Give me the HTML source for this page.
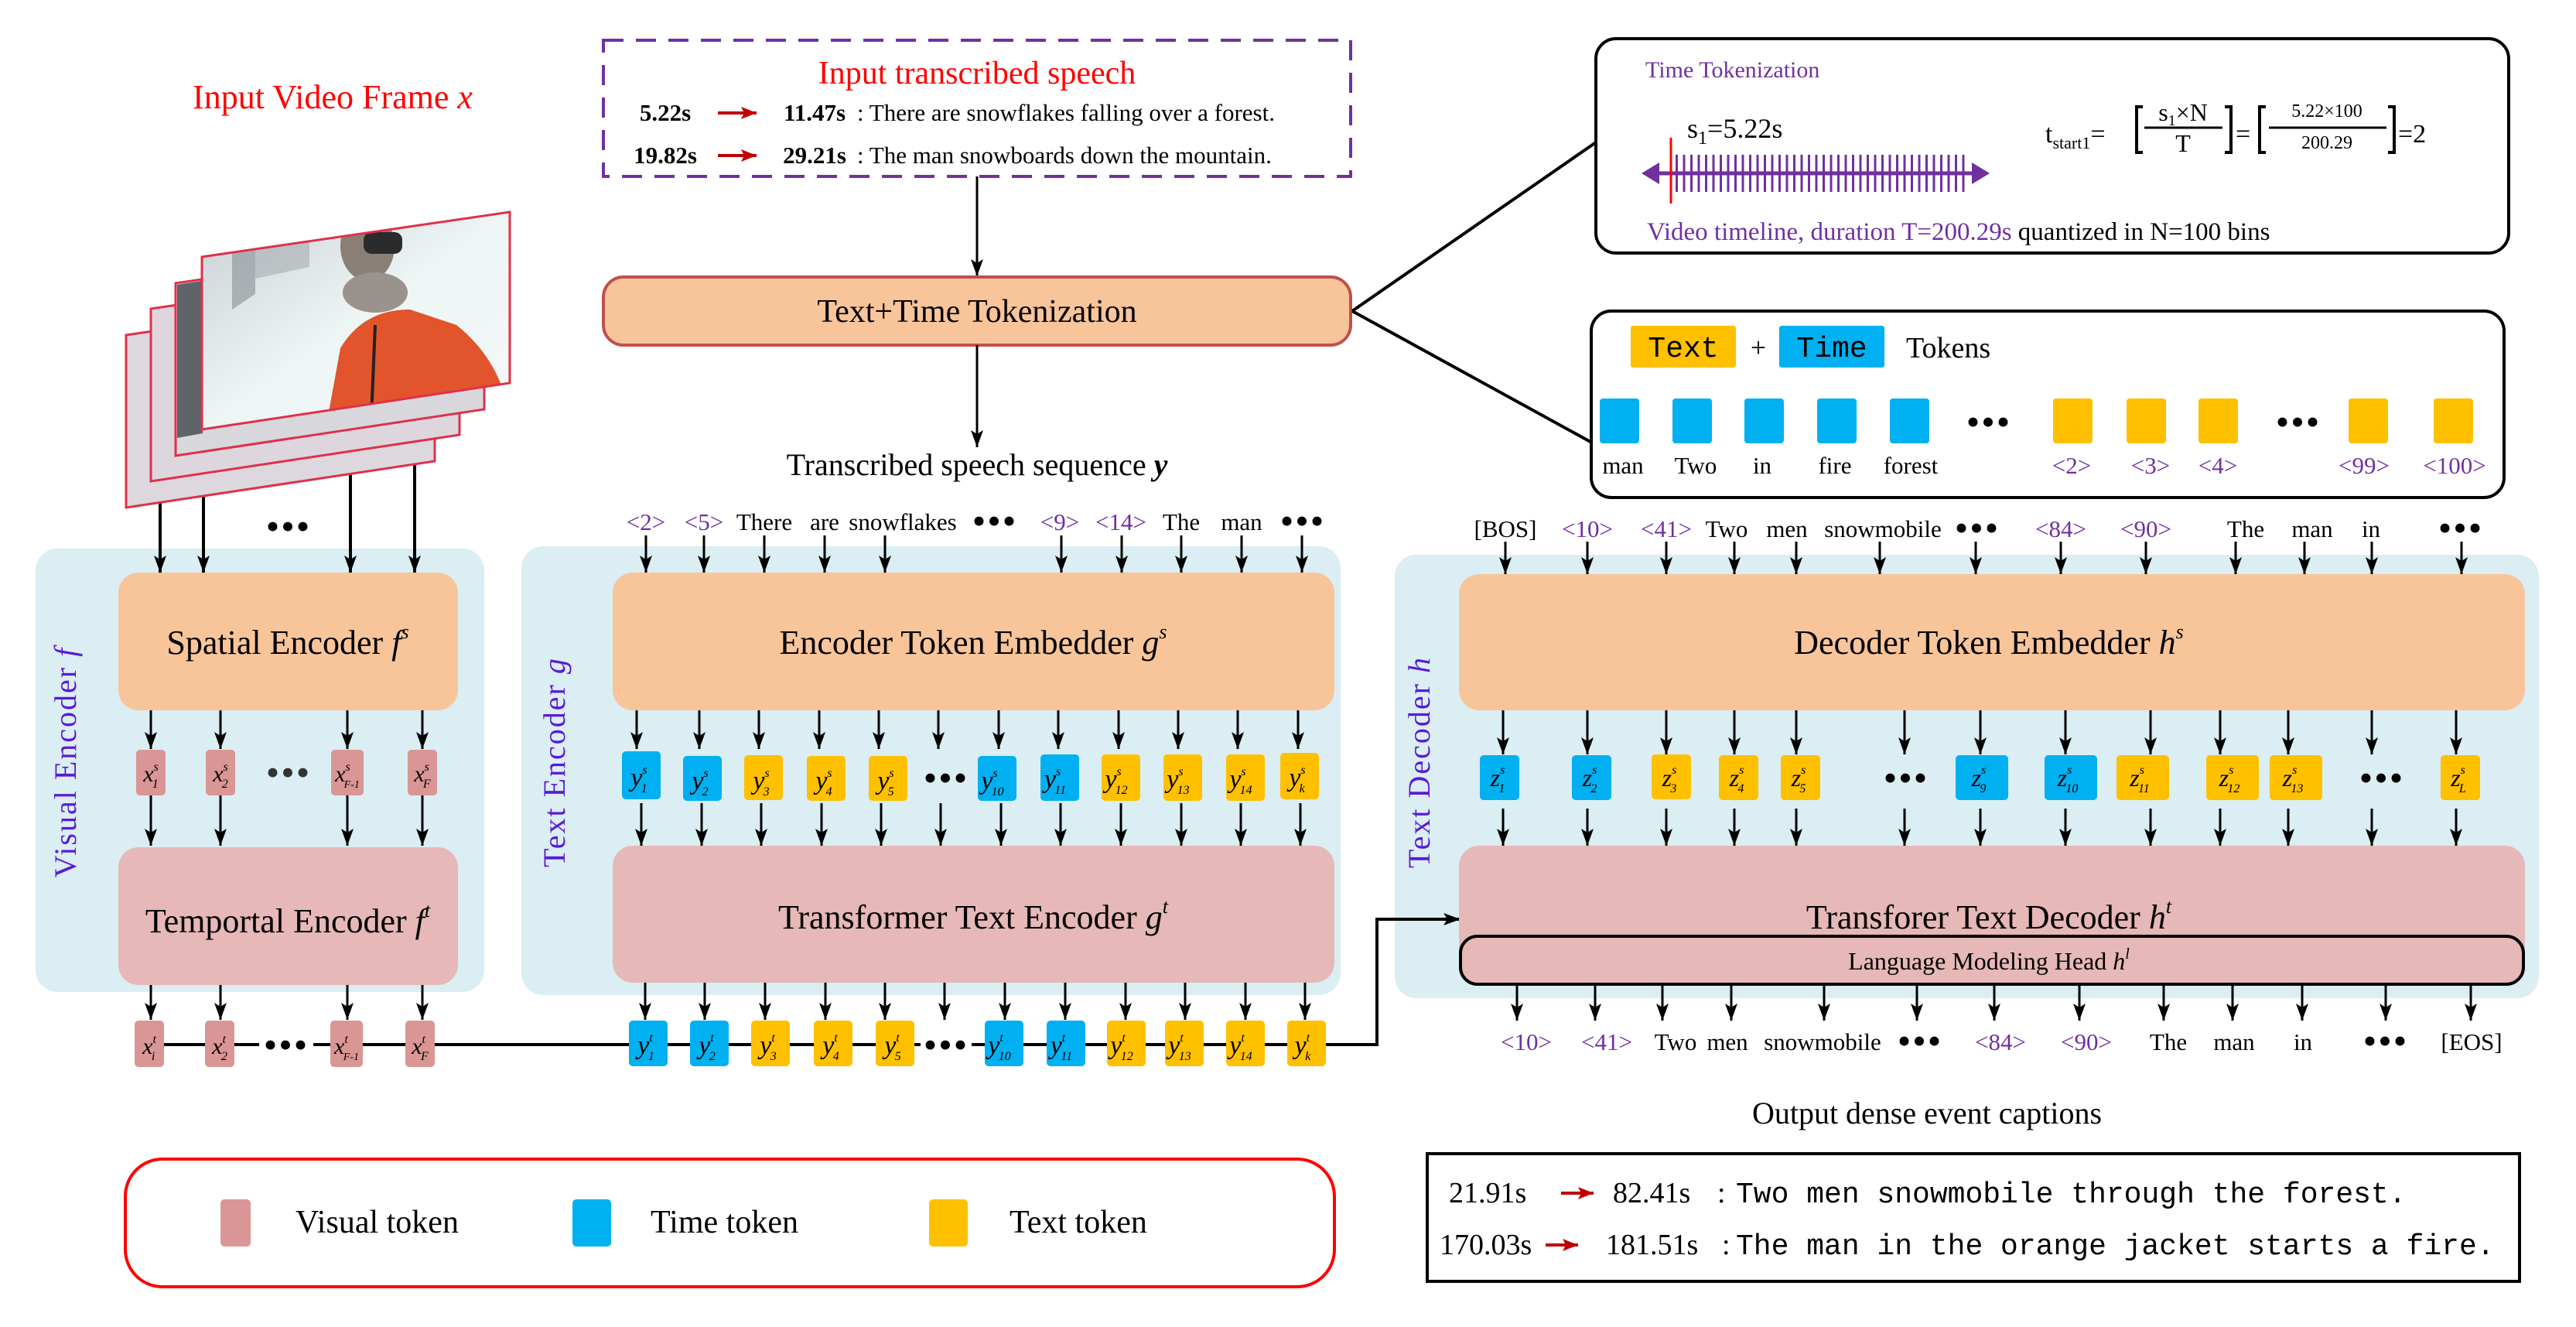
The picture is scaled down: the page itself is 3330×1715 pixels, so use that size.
<!DOCTYPE html>
<html><head><meta charset="utf-8"><style>
html,body{margin:0;padding:0;background:#fff;}
svg{display:block;font-family:"Liberation Serif",serif;}
text{font-family:"Liberation Serif",serif;}
.m{font-family:"Liberation Mono",monospace;}
.d{font-size:50px;letter-spacing:2px;}
</style></head><body>
<svg width="3330" height="1715" viewBox="0 0 3330 1715" xmlns="http://www.w3.org/2000/svg">
<defs>
<marker id="ah" markerWidth="12" markerHeight="10" refX="11" refY="5" orient="auto" markerUnits="userSpaceOnUse" viewBox="0 0 12 10">
<path d="M0,0 L12,5 L0,10 Z" fill="#000"/></marker>
<marker id="a" viewBox="0 0 22 16" refX="22" refY="8" markerWidth="22" markerHeight="16" orient="auto" markerUnits="userSpaceOnUse"><path d="M0,0 L22,8 L0,16 L5,8 Z" fill="#000"/></marker>
<marker id="r" viewBox="0 0 20 16" refX="20" refY="8" markerWidth="20" markerHeight="16" orient="auto" markerUnits="userSpaceOnUse"><path d="M0,0 L20,8 L0,16 L4,8 Z" fill="#C00000"/></marker>
<clipPath id="fc"><polygon points="261,332 659,274 659,495 261,555"/></clipPath>
<linearGradient id="snow" x1="0" y1="0" x2="1" y2="1"><stop offset="0" stop-color="#c9cfd2"/><stop offset="0.5" stop-color="#eef5f5"/><stop offset="1" stop-color="#f4f8f8"/></linearGradient>
</defs>

<!-- panels -->
<rect x="46" y="709" width="580" height="573" rx="28" fill="#DAEEF3"/>
<rect x="674" y="706" width="1059" height="580" rx="28" fill="#DAEEF3"/>
<rect x="1803" y="717" width="1479" height="573" rx="28" fill="#DAEEF3"/>

<!-- Title -->
<text x="430" y="140" font-size="44" fill="#FF0000" text-anchor="middle">Input  Video Frame <tspan font-style="italic">x</tspan></text>

<!-- frame arrows -->
<g stroke="#000" stroke-width="4" marker-end="url(#a)">
<line x1="207" y1="640" x2="207" y2="740"/>
<line x1="263" y1="600" x2="263" y2="740"/>
<line x1="453" y1="540" x2="453" y2="740"/>
<line x1="536" y1="500" x2="536" y2="740"/>
</g>
<text x="373" y="697" class="d" text-anchor="middle">•••</text>

<!-- frames -->
<g stroke="#E0304A" stroke-width="3">
<polygon points="163,433 562,375 562,596 163,656" fill="#DCD8DE"/>
<polygon points="195,399 594,341 594,562 195,622" fill="#DDD7DD"/>
<polygon points="227,366 626,308 626,529 227,589" fill="#D8D8DC"/>
</g>
<polygon points="229,368 624,310 624,470 229,530" fill="#9aa0a6"/>
<polygon points="229,368 262,363 262,560 229,566" fill="#5d6368"/>
<g clip-path="url(#fc)">
<rect x="255" y="270" width="410" height="290" fill="url(#snow)"/>
<polygon points="300,320 330,318 330,380 300,400" fill="#888e93" opacity="0.6"/>
<polygon points="330,315 400,305 400,345 330,360" fill="#9ca2a6" opacity="0.5"/>
<ellipse cx="475" cy="318" rx="35" ry="45" fill="#8a7f76"/>
<rect x="470" y="300" width="50" height="28" rx="10" fill="#2b2b2b"/>
<ellipse cx="485" cy="378" rx="42" ry="26" fill="#9a928c"/>
<path d="M420,560 L440,450 Q470,400 530,400 L590,420 Q640,460 655,520 L660,560 Z" fill="#E2542B"/>
<line x1="485" y1="420" x2="480" y2="540" stroke="#222" stroke-width="4"/>
</g>
<polygon points="261,332 659,274 659,495 261,555" fill="none" stroke="#E0304A" stroke-width="3"/>

<!-- Input transcribed speech -->
<rect x="780" y="52" width="966" height="176" fill="none" stroke="#7030A0" stroke-width="4" stroke-dasharray="26,16"/>
<text x="1263" y="108" font-size="42" fill="#FF0000" text-anchor="middle">Input transcribed speech</text>
<g font-size="31">
<text x="860" y="156" font-weight="bold" text-anchor="middle">5.22s</text>
<line x1="928" y1="146" x2="978" y2="146" stroke="#C00000" stroke-width="4" marker-end="url(#r)"/>
<text x="1053" y="156" font-weight="bold" text-anchor="middle">11.47s</text>
<text x="1108" y="156">: There are snowflakes falling over a forest.</text>
<text x="860" y="211" font-weight="bold" text-anchor="middle">19.82s</text>
<line x1="928" y1="201" x2="978" y2="201" stroke="#C00000" stroke-width="4" marker-end="url(#r)"/>
<text x="1053" y="211" font-weight="bold" text-anchor="middle">29.21s</text>
<text x="1108" y="211">: The man snowboards down the mountain.</text>
</g>
<line x1="1263" y1="228" x2="1263" y2="357" stroke="#000" stroke-width="3" marker-end="url(#a)"/>
<rect x="780" y="358" width="966" height="88" rx="26" fill="#F8C49A" stroke="#C0504D" stroke-width="4"/>
<text x="1263" y="416" font-size="42" text-anchor="middle">Text+Time Tokenization</text>
<line x1="1263" y1="446" x2="1263" y2="578" stroke="#000" stroke-width="3" marker-end="url(#a)"/>
<text x="1263" y="614" font-size="40" text-anchor="middle">Transcribed speech sequence <tspan font-style="italic" font-weight="bold">y</tspan></text>

<!-- callout lines -->
<line x1="1748" y1="402" x2="2063" y2="184" stroke="#000" stroke-width="4"/>
<line x1="1748" y1="402" x2="2056" y2="571" stroke="#000" stroke-width="4"/>

<!-- Time tokenization box -->
<rect x="2063" y="50" width="1180" height="277" rx="26" fill="#fff" stroke="#000" stroke-width="4"/>
<text x="2127" y="100" font-size="30" fill="#7030A0">Time Tokenization</text>
<text x="2181" y="178" font-size="36">s<tspan font-size="24" dy="8">1</tspan><tspan dy="-8">=5.22s</tspan></text>
<line x1="2130" y1="224" x2="2565" y2="224" stroke="#7030A0" stroke-width="5"/>
<path d="M2122,224 L2145,210 L2145,238 Z" fill="#7030A0"/>
<path d="M2572,224 L2549,210 L2549,238 Z" fill="#7030A0"/>
<line x1="2166" y1="224" x2="2542" y2="224" stroke="#7030A0" stroke-width="48" stroke-dasharray="3,6.5"/>
<line x1="2160" y1="178" x2="2160" y2="263" stroke="#FF0000" stroke-width="3"/>
<text x="2644" y="184" font-size="34">t<tspan font-size="22" dy="8">start1</tspan><tspan dy="-8">=</tspan></text>
<path d="M2770,138 L2762,138 L2762,197 L2770,197" fill="none" stroke="#000" stroke-width="4"/>
<text x="2822" y="156" font-size="32" text-anchor="middle">s<tspan font-size="20" dy="6">1</tspan><tspan dy="-6">×N</tspan></text>
<line x1="2772" y1="165" x2="2873" y2="165" stroke="#000" stroke-width="3"/>
<text x="2822" y="196" font-size="32" text-anchor="middle">T</text>
<path d="M2876,138 L2884,138 L2884,197 L2876,197" fill="none" stroke="#000" stroke-width="4"/>
<text x="2890" y="184" font-size="34">=</text>
<path d="M2929,138 L2921,138 L2921,197 L2929,197" fill="none" stroke="#000" stroke-width="4"/>
<text x="3008" y="151" font-size="24" text-anchor="middle">5.22×100</text>
<line x1="2933" y1="165" x2="3085" y2="165" stroke="#000" stroke-width="3"/>
<text x="3008" y="192" font-size="24" text-anchor="middle">200.29</text>
<path d="M3087,138 L3095,138 L3095,197 L3087,197" fill="none" stroke="#000" stroke-width="4"/>
<text x="3100" y="184" font-size="34">=2</text>
<text x="2129" y="310" font-size="33"><tspan fill="#7030A0">Video timeline, duration T=200.29s</tspan> quantized in N=100 bins</text>

<!-- Tokens box -->
<rect x="2057" y="402" width="1180" height="241" rx="26" fill="#fff" stroke="#000" stroke-width="4"/>
<rect x="2108" y="421" width="136" height="54" rx="3" fill="#FFC000"/>
<text x="2176" y="461" font-size="38" text-anchor="middle" class="m">Text</text>
<text x="2273" y="461" font-size="36" text-anchor="middle">+</text>
<rect x="2300" y="421" width="136" height="54" rx="3" fill="#00B0F0"/>
<text x="2368" y="461" font-size="38" text-anchor="middle" class="m">Time</text>
<text x="2464" y="462" font-size="38">Tokens</text>
<g fill="#00B0F0">
<rect x="2068" y="515" width="51" height="58" rx="4"/><rect x="2162" y="515" width="51" height="58" rx="4"/><rect x="2255" y="515" width="51" height="58" rx="4"/><rect x="2349" y="515" width="51" height="58" rx="4"/><rect x="2443" y="515" width="51" height="58" rx="4"/>
</g>
<g fill="#FFC000">
<rect x="2654" y="515" width="51" height="58" rx="4"/><rect x="2749" y="515" width="51" height="58" rx="4"/><rect x="2842" y="515" width="51" height="58" rx="4"/><rect x="3036" y="515" width="51" height="58" rx="4"/><rect x="3146" y="515" width="51" height="58" rx="4"/>
</g>
<text x="2571" y="562" class="d" text-anchor="middle">•••</text><text x="2971" y="562" class="d" text-anchor="middle">•••</text>
<g font-size="31" text-anchor="middle">
<text x="2098" y="612">man</text><text x="2192" y="612">Two</text><text x="2278" y="612">in</text><text x="2372" y="612">fire</text><text x="2470" y="612">forest</text>
<g fill="#7030A0"><text x="2678" y="612">&lt;2&gt;</text><text x="2780" y="612">&lt;3&gt;</text><text x="2867" y="612">&lt;4&gt;</text><text x="3056" y="612">&lt;99&gt;</text><text x="3173" y="612">&lt;100&gt;</text></g>
</g>

<!-- Visual encoder -->
<text transform="translate(98,985) rotate(-90)" font-size="40" fill="#5A1BD6" text-anchor="middle" letter-spacing="2">Visual Encoder <tspan font-style="italic">f</tspan></text>
<rect x="153" y="740" width="439" height="178" rx="26" fill="#F8C59A"/>
<text x="372" y="845" font-size="44" text-anchor="middle">Spatial Encoder <tspan font-style="italic">f</tspan><tspan font-size="26" dy="-20" font-style="italic">s</tspan></text>
<rect x="153" y="1095" width="439" height="178" rx="26" fill="#E6B8B7"/>
<text x="372" y="1205" font-size="44" text-anchor="middle">Temportal Encoder <tspan font-style="italic">f</tspan><tspan font-size="26" dy="-20" font-style="italic">t</tspan></text>
<g stroke="#000" stroke-width="3" marker-end="url(#a)">
<line x1="195" y1="918" x2="195" y2="968"/><line x1="285" y1="918" x2="285" y2="968"/><line x1="449" y1="918" x2="449" y2="968"/><line x1="546" y1="918" x2="546" y2="968"/>
<line x1="195" y1="1028" x2="195" y2="1093"/><line x1="285" y1="1028" x2="285" y2="1093"/><line x1="449" y1="1028" x2="449" y2="1093"/><line x1="546" y1="1028" x2="546" y2="1093"/>
<line x1="195" y1="1273" x2="195" y2="1318"/><line x1="285" y1="1273" x2="285" y2="1318"/><line x1="449" y1="1273" x2="449" y2="1318"/><line x1="546" y1="1273" x2="546" y2="1318"/>
</g>
<g fill="#D99694">
<rect x="176" y="969" width="38" height="59" rx="5"/><rect x="266" y="969" width="38" height="59" rx="5"/><rect x="428" y="969" width="42" height="59" rx="5"/><rect x="527" y="969" width="38" height="59" rx="5"/>
</g>
<g font-size="30" font-style="italic" text-anchor="middle">
<text x="195" y="1010">x<tspan font-size="16" dy="-14">s</tspan><tspan font-size="16" dx="-8" dy="22">1</tspan></text>
<text x="285" y="1010">x<tspan font-size="16" dy="-14">s</tspan><tspan font-size="16" dx="-8" dy="22">2</tspan></text>
<text x="449" y="1010">x<tspan font-size="16" dy="-14">s</tspan><tspan font-size="14" dx="-8" dy="22">F-1</tspan></text>
<text x="546" y="1010">x<tspan font-size="16" dy="-14">s</tspan><tspan font-size="16" dx="-8" dy="22">F</tspan></text>
</g>
<text x="373" y="1015" class="d" text-anchor="middle" fill="#333">•••</text>

<!-- bottom line -->
<polyline points="212,1350 1780,1350 1780,1188 1870,1188" fill="none" stroke="#000" stroke-width="4"/>
<line x1="1860" y1="1188" x2="1888" y2="1188" stroke="#000" stroke-width="4" marker-end="url(#a)"/>
<g fill="#D99694">
<rect x="174" y="1319" width="38" height="60" rx="5"/><rect x="265" y="1319" width="38" height="60" rx="5"/><rect x="427" y="1319" width="42" height="60" rx="5"/><rect x="524" y="1319" width="38" height="60" rx="5"/>
</g>
<rect x="335" y="1330" width="70" height="40" fill="#fff"/>
<text x="370" y="1367" class="d" text-anchor="middle">•••</text>
<g font-size="30" font-style="italic" text-anchor="middle">
<text x="193" y="1362">x<tspan font-size="16" dy="-14">t</tspan><tspan font-size="16" dx="-6" dy="22">i</tspan></text>
<text x="284" y="1362">x<tspan font-size="16" dy="-14">t</tspan><tspan font-size="16" dx="-6" dy="22">2</tspan></text>
<text x="448" y="1362">x<tspan font-size="16" dy="-14">t</tspan><tspan font-size="14" dx="-6" dy="22">F-1</tspan></text>
<text x="543" y="1362">x<tspan font-size="16" dy="-14">t</tspan><tspan font-size="16" dx="-6" dy="22">F</tspan></text>
</g>

<!-- Text encoder -->
<text transform="translate(730,985) rotate(-90)" font-size="40" fill="#5A1BD6" text-anchor="middle" letter-spacing="2">Text Encoder <tspan font-style="italic">g</tspan></text>
<g font-size="31" text-anchor="middle">
<g fill="#7030A0"><text x="835" y="685">&lt;2&gt;</text><text x="910" y="685">&lt;5&gt;</text><text x="1370" y="685">&lt;9&gt;</text><text x="1449" y="685">&lt;14&gt;</text></g>
<text x="988" y="685">There</text><text x="1066" y="685">are</text><text x="1167" y="685">snowflakes</text><text x="1527" y="685">The</text><text x="1605" y="685">man</text>
</g>
<text x="1286" y="690" class="d" text-anchor="middle">•••</text><text x="1684" y="690" class="d" text-anchor="middle">•••</text>
<g stroke="#000" stroke-width="3" marker-end="url(#a)">
<line x1="835" y1="692" x2="835" y2="740"/><line x1="910" y1="692" x2="910" y2="740"/><line x1="988" y1="692" x2="988" y2="740"/><line x1="1066" y1="692" x2="1066" y2="740"/><line x1="1144" y1="692" x2="1144" y2="740"/><line x1="1372" y1="692" x2="1372" y2="740"/><line x1="1450" y1="692" x2="1450" y2="740"/><line x1="1527" y1="692" x2="1527" y2="740"/><line x1="1605" y1="692" x2="1605" y2="740"/><line x1="1683" y1="692" x2="1683" y2="740"/>
</g>
<rect x="792" y="740" width="933" height="178" rx="26" fill="#F8C59A"/>
<text x="1258" y="845" font-size="44" text-anchor="middle">Encoder  Token Embedder <tspan font-style="italic">g</tspan><tspan font-size="26" dy="-20" font-style="italic">s</tspan></text>
<rect x="792" y="1093" width="933" height="177" rx="26" fill="#E6B8B7"/>
<text x="1258" y="1200" font-size="44" text-anchor="middle">Transformer Text Encoder <tspan font-style="italic">g</tspan><tspan font-size="26" dy="-20" font-style="italic">t</tspan></text>
<g stroke="#000" stroke-width="3" marker-end="url(#a)">
<line x1="823" y1="918" x2="823" y2="968"/><line x1="904" y1="918" x2="904" y2="968"/><line x1="981" y1="918" x2="981" y2="968"/><line x1="1059" y1="918" x2="1059" y2="968"/><line x1="1136" y1="918" x2="1136" y2="968"/><line x1="1213" y1="918" x2="1213" y2="968"/><line x1="1291" y1="918" x2="1291" y2="968"/><line x1="1368" y1="918" x2="1368" y2="968"/><line x1="1446" y1="918" x2="1446" y2="968"/><line x1="1523" y1="918" x2="1523" y2="968"/><line x1="1600" y1="918" x2="1600" y2="968"/><line x1="1678" y1="918" x2="1678" y2="968"/>
<line x1="829" y1="1038" x2="829" y2="1093"/><line x1="907" y1="1038" x2="907" y2="1093"/><line x1="984" y1="1038" x2="984" y2="1093"/><line x1="1062" y1="1038" x2="1062" y2="1093"/><line x1="1139" y1="1038" x2="1139" y2="1093"/><line x1="1216" y1="1038" x2="1216" y2="1093"/><line x1="1294" y1="1038" x2="1294" y2="1093"/><line x1="1371" y1="1038" x2="1371" y2="1093"/><line x1="1449" y1="1038" x2="1449" y2="1093"/><line x1="1527" y1="1038" x2="1527" y2="1093"/><line x1="1604" y1="1038" x2="1604" y2="1093"/><line x1="1681" y1="1038" x2="1681" y2="1093"/>
<line x1="834" y1="1270" x2="834" y2="1318"/><line x1="911" y1="1270" x2="911" y2="1318"/><line x1="989" y1="1270" x2="989" y2="1318"/><line x1="1067" y1="1270" x2="1067" y2="1318"/><line x1="1144" y1="1270" x2="1144" y2="1318"/><line x1="1221" y1="1270" x2="1221" y2="1318"/><line x1="1299" y1="1270" x2="1299" y2="1318"/><line x1="1377" y1="1270" x2="1377" y2="1318"/><line x1="1455" y1="1270" x2="1455" y2="1318"/><line x1="1532" y1="1270" x2="1532" y2="1318"/><line x1="1610" y1="1270" x2="1610" y2="1318"/><line x1="1687" y1="1270" x2="1687" y2="1318"/>
</g>
<!-- ys tokens -->
<g>
<rect x="804" y="971" width="50" height="62" rx="5" fill="#00B0F0"/>
<rect x="883" y="977" width="50" height="58" rx="5" fill="#00B0F0"/>
<rect x="962" y="976" width="50" height="58" rx="5" fill="#FFC000"/>
<rect x="1043" y="977" width="50" height="58" rx="5" fill="#FFC000"/>
<rect x="1123" y="977" width="50" height="58" rx="5" fill="#FFC000"/>
<rect x="1264" y="977" width="50" height="58" rx="5" fill="#00B0F0"/>
<rect x="1345" y="975" width="50" height="60" rx="5" fill="#00B0F0"/>
<rect x="1424" y="975" width="50" height="60" rx="5" fill="#FFC000"/>
<rect x="1504" y="975" width="50" height="60" rx="5" fill="#FFC000"/>
<rect x="1585" y="975" width="50" height="60" rx="5" fill="#FFC000"/>
<rect x="1655" y="973" width="50" height="60" rx="5" fill="#FFC000"/>
</g>
<text x="1223" y="1022" class="d" text-anchor="middle">•••</text>
<g font-size="34" font-style="italic" text-anchor="middle">
<text x="826" y="1016">y<tspan font-size="16" dy="-16">s</tspan><tspan font-size="16" dx="-8" dy="24">1</tspan></text>
<text x="905" y="1020">y<tspan font-size="16" dy="-16">s</tspan><tspan font-size="16" dx="-8" dy="24">2</tspan></text>
<text x="984" y="1020">y<tspan font-size="16" dy="-16">s</tspan><tspan font-size="16" dx="-8" dy="24">3</tspan></text>
<text x="1065" y="1020">y<tspan font-size="16" dy="-16">s</tspan><tspan font-size="16" dx="-8" dy="24">4</tspan></text>
<text x="1145" y="1020">y<tspan font-size="16" dy="-16">s</tspan><tspan font-size="16" dx="-8" dy="24">5</tspan></text>
<text x="1283" y="1020">y<tspan font-size="16" dy="-16">s</tspan><tspan font-size="16" dx="-8" dy="24">10</tspan></text>
<text x="1364" y="1018">y<tspan font-size="16" dy="-16">s</tspan><tspan font-size="16" dx="-8" dy="24">11</tspan></text>
<text x="1443" y="1018">y<tspan font-size="16" dy="-16">s</tspan><tspan font-size="16" dx="-8" dy="24">12</tspan></text>
<text x="1523" y="1018">y<tspan font-size="16" dy="-16">s</tspan><tspan font-size="16" dx="-8" dy="24">13</tspan></text>
<text x="1604" y="1018">y<tspan font-size="16" dy="-16">s</tspan><tspan font-size="16" dx="-8" dy="24">14</tspan></text>
<text x="1677" y="1016">y<tspan font-size="16" dy="-16">s</tspan><tspan font-size="16" dx="-8" dy="24">k</tspan></text>
</g>
<!-- yt tokens -->
<g>
<rect x="813" y="1319" width="50" height="59" rx="5" fill="#00B0F0"/>
<rect x="892" y="1319" width="50" height="59" rx="5" fill="#00B0F0"/>
<rect x="971" y="1319" width="50" height="59" rx="5" fill="#FFC000"/>
<rect x="1052" y="1319" width="50" height="59" rx="5" fill="#FFC000"/>
<rect x="1132" y="1319" width="50" height="59" rx="5" fill="#FFC000"/>
<rect x="1273" y="1319" width="50" height="59" rx="5" fill="#00B0F0"/>
<rect x="1353" y="1319" width="50" height="59" rx="5" fill="#00B0F0"/>
<rect x="1431" y="1319" width="50" height="59" rx="5" fill="#FFC000"/>
<rect x="1506" y="1319" width="50" height="59" rx="5" fill="#FFC000"/>
<rect x="1585" y="1319" width="50" height="59" rx="5" fill="#FFC000"/>
<rect x="1664" y="1319" width="50" height="59" rx="5" fill="#FFC000"/>
</g>
<rect x="1190" y="1330" width="66" height="40" fill="#fff"/>
<text x="1223" y="1367" class="d" text-anchor="middle">•••</text>
<g font-size="34" font-style="italic" text-anchor="middle">
<text x="835" y="1362">y<tspan font-size="16" dy="-16">t</tspan><tspan font-size="16" dx="-6" dy="24">1</tspan></text>
<text x="914" y="1362">y<tspan font-size="16" dy="-16">t</tspan><tspan font-size="16" dx="-6" dy="24">2</tspan></text>
<text x="993" y="1362">y<tspan font-size="16" dy="-16">t</tspan><tspan font-size="16" dx="-6" dy="24">3</tspan></text>
<text x="1074" y="1362">y<tspan font-size="16" dy="-16">t</tspan><tspan font-size="16" dx="-6" dy="24">4</tspan></text>
<text x="1154" y="1362">y<tspan font-size="16" dy="-16">t</tspan><tspan font-size="16" dx="-6" dy="24">5</tspan></text>
<text x="1292" y="1362">y<tspan font-size="16" dy="-16">t</tspan><tspan font-size="16" dx="-6" dy="24">10</tspan></text>
<text x="1372" y="1362">y<tspan font-size="16" dy="-16">t</tspan><tspan font-size="16" dx="-6" dy="24">11</tspan></text>
<text x="1450" y="1362">y<tspan font-size="16" dy="-16">t</tspan><tspan font-size="16" dx="-6" dy="24">12</tspan></text>
<text x="1525" y="1362">y<tspan font-size="16" dy="-16">t</tspan><tspan font-size="16" dx="-6" dy="24">13</tspan></text>
<text x="1604" y="1362">y<tspan font-size="16" dy="-16">t</tspan><tspan font-size="16" dx="-6" dy="24">14</tspan></text>
<text x="1684" y="1362">y<tspan font-size="16" dy="-16">t</tspan><tspan font-size="16" dx="-6" dy="24">k</tspan></text>
</g>

<!-- Decoder -->
<text transform="translate(1848,985) rotate(-90)" font-size="40" fill="#5A1BD6" text-anchor="middle" letter-spacing="2">Text Decoder <tspan font-style="italic">h</tspan></text>
<g font-size="31" text-anchor="middle">
<text x="1946" y="694">[BOS]</text>
<g fill="#7030A0"><text x="2052" y="694">&lt;10&gt;</text><text x="2154" y="694">&lt;41&gt;</text><text x="2664" y="694">&lt;84&gt;</text><text x="2774" y="694">&lt;90&gt;</text></g>
<text x="2232" y="694">Two</text><text x="2310" y="694">men</text><text x="2434" y="694">snowmobile</text><text x="2903" y="694">The</text><text x="2989" y="694">man</text><text x="3065" y="694">in</text>
</g>
<text x="2556" y="699" class="d" text-anchor="middle">•••</text><text x="3181" y="699" class="d" text-anchor="middle">•••</text>
<g stroke="#000" stroke-width="3" marker-end="url(#a)">
<line x1="1946" y1="700" x2="1946" y2="742"/><line x1="2052" y1="700" x2="2052" y2="742"/><line x1="2154" y1="700" x2="2154" y2="742"/><line x1="2242" y1="700" x2="2242" y2="742"/><line x1="2322" y1="700" x2="2322" y2="742"/><line x1="2430" y1="700" x2="2430" y2="742"/><line x1="2554" y1="700" x2="2554" y2="742"/><line x1="2664" y1="700" x2="2664" y2="742"/><line x1="2774" y1="700" x2="2774" y2="742"/><line x1="2890" y1="700" x2="2890" y2="742"/><line x1="2979" y1="700" x2="2979" y2="742"/><line x1="3066" y1="700" x2="3066" y2="742"/><line x1="3182" y1="700" x2="3182" y2="742"/>
</g>
<rect x="1886" y="742" width="1378" height="176" rx="26" fill="#F8C59A"/>
<text x="2571" y="845" font-size="44" text-anchor="middle">Decoder Token Embedder <tspan font-style="italic">h</tspan><tspan font-size="26" dy="-20" font-style="italic">s</tspan></text>
<rect x="1886" y="1093" width="1378" height="179" rx="26" fill="#E6B8B7"/>
<text x="2571" y="1200" font-size="44" text-anchor="middle">Transforer Text Decoder <tspan font-style="italic">h</tspan><tspan font-size="26" dy="-20" font-style="italic">t</tspan></text>
<rect x="1888" y="1210" width="1374" height="62" rx="22" fill="#E6B8B7" stroke="#000" stroke-width="4"/>
<text x="2571" y="1253" font-size="32" text-anchor="middle">Language Modeling Head <tspan font-style="italic">h</tspan><tspan font-size="20" dy="-14" font-style="italic">l</tspan></text>
<g stroke="#000" stroke-width="3" marker-end="url(#a)">
<line x1="1943" y1="918" x2="1943" y2="975"/><line x1="2052" y1="918" x2="2052" y2="975"/><line x1="2154" y1="918" x2="2154" y2="975"/><line x1="2242" y1="918" x2="2242" y2="975"/><line x1="2322" y1="918" x2="2322" y2="975"/><line x1="2462" y1="918" x2="2462" y2="975"/><line x1="2560" y1="918" x2="2560" y2="975"/><line x1="2670" y1="918" x2="2670" y2="975"/><line x1="2780" y1="918" x2="2780" y2="975"/><line x1="2870" y1="918" x2="2870" y2="975"/><line x1="2958" y1="918" x2="2958" y2="975"/><line x1="3066" y1="918" x2="3066" y2="975"/><line x1="3175" y1="918" x2="3175" y2="975"/>
<line x1="1943" y1="1045" x2="1943" y2="1093"/><line x1="2052" y1="1045" x2="2052" y2="1093"/><line x1="2154" y1="1045" x2="2154" y2="1093"/><line x1="2242" y1="1045" x2="2242" y2="1093"/><line x1="2322" y1="1045" x2="2322" y2="1093"/><line x1="2462" y1="1045" x2="2462" y2="1093"/><line x1="2560" y1="1045" x2="2560" y2="1093"/><line x1="2670" y1="1045" x2="2670" y2="1093"/><line x1="2780" y1="1045" x2="2780" y2="1093"/><line x1="2870" y1="1045" x2="2870" y2="1093"/><line x1="2958" y1="1045" x2="2958" y2="1093"/><line x1="3066" y1="1045" x2="3066" y2="1093"/><line x1="3175" y1="1045" x2="3175" y2="1093"/>
<line x1="1961" y1="1272" x2="1961" y2="1319"/><line x1="2062" y1="1272" x2="2062" y2="1319"/><line x1="2149" y1="1272" x2="2149" y2="1319"/><line x1="2238" y1="1272" x2="2238" y2="1319"/><line x1="2358" y1="1272" x2="2358" y2="1319"/><line x1="2478" y1="1272" x2="2478" y2="1319"/><line x1="2578" y1="1272" x2="2578" y2="1319"/><line x1="2688" y1="1272" x2="2688" y2="1319"/><line x1="2797" y1="1272" x2="2797" y2="1319"/><line x1="2886" y1="1272" x2="2886" y2="1319"/><line x1="2976" y1="1272" x2="2976" y2="1319"/><line x1="3084" y1="1272" x2="3084" y2="1319"/><line x1="3194" y1="1272" x2="3194" y2="1319"/>
</g>
<!-- z tokens -->
<g fill="#00B0F0">
<rect x="1913" y="976" width="51" height="58" rx="5"/><rect x="2032" y="976" width="51" height="58" rx="5"/><rect x="2528" y="976" width="68" height="58" rx="5"/><rect x="2643" y="976" width="68" height="58" rx="5"/>
</g>
<g fill="#FFC000">
<rect x="2135" y="975" width="51" height="58" rx="5"/><rect x="2222" y="976" width="51" height="58" rx="5"/><rect x="2302" y="976" width="51" height="58" rx="5"/><rect x="2736" y="976" width="68" height="58" rx="5"/><rect x="2852" y="976" width="68" height="58" rx="5"/><rect x="2934" y="976" width="68" height="58" rx="5"/><rect x="3155" y="976" width="51" height="58" rx="5"/>
</g>
<text x="2464" y="1022" class="d" text-anchor="middle">•••</text><text x="3079" y="1022" class="d" text-anchor="middle">•••</text>
<g font-size="32" font-style="italic" text-anchor="middle">
<text x="1936" y="1016">z<tspan font-size="16" dy="-16">s</tspan><tspan font-size="16" dx="-8" dy="24">1</tspan></text>
<text x="2055" y="1016">z<tspan font-size="16" dy="-16">s</tspan><tspan font-size="16" dx="-8" dy="24">2</tspan></text>
<text x="2158" y="1016">z<tspan font-size="16" dy="-16">s</tspan><tspan font-size="16" dx="-8" dy="24">3</tspan></text>
<text x="2245" y="1016">z<tspan font-size="16" dy="-16">s</tspan><tspan font-size="16" dx="-8" dy="24">4</tspan></text>
<text x="2325" y="1016">z<tspan font-size="16" dy="-16">s</tspan><tspan font-size="16" dx="-8" dy="24">5</tspan></text>
<text x="2558" y="1016">z<tspan font-size="16" dy="-16">s</tspan><tspan font-size="16" dx="-8" dy="24">9</tspan></text>
<text x="2673" y="1016">z<tspan font-size="16" dy="-16">s</tspan><tspan font-size="16" dx="-8" dy="24">10</tspan></text>
<text x="2766" y="1016">z<tspan font-size="16" dy="-16">s</tspan><tspan font-size="16" dx="-8" dy="24">11</tspan></text>
<text x="2882" y="1016">z<tspan font-size="16" dy="-16">s</tspan><tspan font-size="16" dx="-8" dy="24">12</tspan></text>
<text x="2964" y="1016">z<tspan font-size="16" dy="-16">s</tspan><tspan font-size="16" dx="-8" dy="24">13</tspan></text>
<text x="3178" y="1016">z<tspan font-size="16" dy="-16">s</tspan><tspan font-size="16" dx="-8" dy="24">L</tspan></text>
</g>
<g font-size="31" text-anchor="middle">
<g fill="#7030A0"><text x="1973" y="1357">&lt;10&gt;</text><text x="2077" y="1357">&lt;41&gt;</text><text x="2586" y="1357">&lt;84&gt;</text><text x="2697" y="1357">&lt;90&gt;</text></g>
<text x="2166" y="1357">Two</text><text x="2233" y="1357">men</text><text x="2356" y="1357">snowmobile</text><text x="2803" y="1357">The</text><text x="2888" y="1357">man</text><text x="2977" y="1357">in</text><text x="3195" y="1357">[EOS]</text>
</g>
<text x="2482" y="1362" class="d" text-anchor="middle">•••</text><text x="3084" y="1362" class="d" text-anchor="middle">•••</text>
<text x="2491" y="1452" font-size="40" text-anchor="middle">Output dense event captions</text>
<rect x="1845" y="1491" width="1412" height="165" fill="#fff" stroke="#000" stroke-width="4"/>
<g font-size="38">
<text x="1873" y="1554">21.91s</text>
<line x1="2018" y1="1542" x2="2060" y2="1542" stroke="#C00000" stroke-width="4" marker-end="url(#r)"/>
<text x="2085" y="1554">82.41s</text><text x="2220" y="1554">:</text>
<text x="2244" y="1554" class="m">Two men snowmobile through the forest.</text>
<text x="1861" y="1621">170.03s</text>
<line x1="1998" y1="1609" x2="2040" y2="1609" stroke="#C00000" stroke-width="4" marker-end="url(#r)"/>
<text x="2076" y="1621">181.51s</text><text x="2226" y="1621">:</text>
<text x="2244" y="1621" class="m">The man in the orange jacket starts a fire.</text>
</g>

<!-- Legend -->
<rect x="162" y="1498" width="1563" height="165" rx="48" fill="#fff" stroke="#FF0000" stroke-width="4"/>
<rect x="285" y="1550" width="39" height="61" rx="5" fill="#D99694"/>
<text x="382" y="1593" font-size="42">Visual token</text>
<rect x="740" y="1550" width="50" height="61" rx="5" fill="#00B0F0"/>
<text x="841" y="1593" font-size="42">Time token</text>
<rect x="1201" y="1550" width="50" height="61" rx="5" fill="#FFC000"/>
<text x="1305" y="1593" font-size="42">Text token</text>
</svg>
</body></html>
